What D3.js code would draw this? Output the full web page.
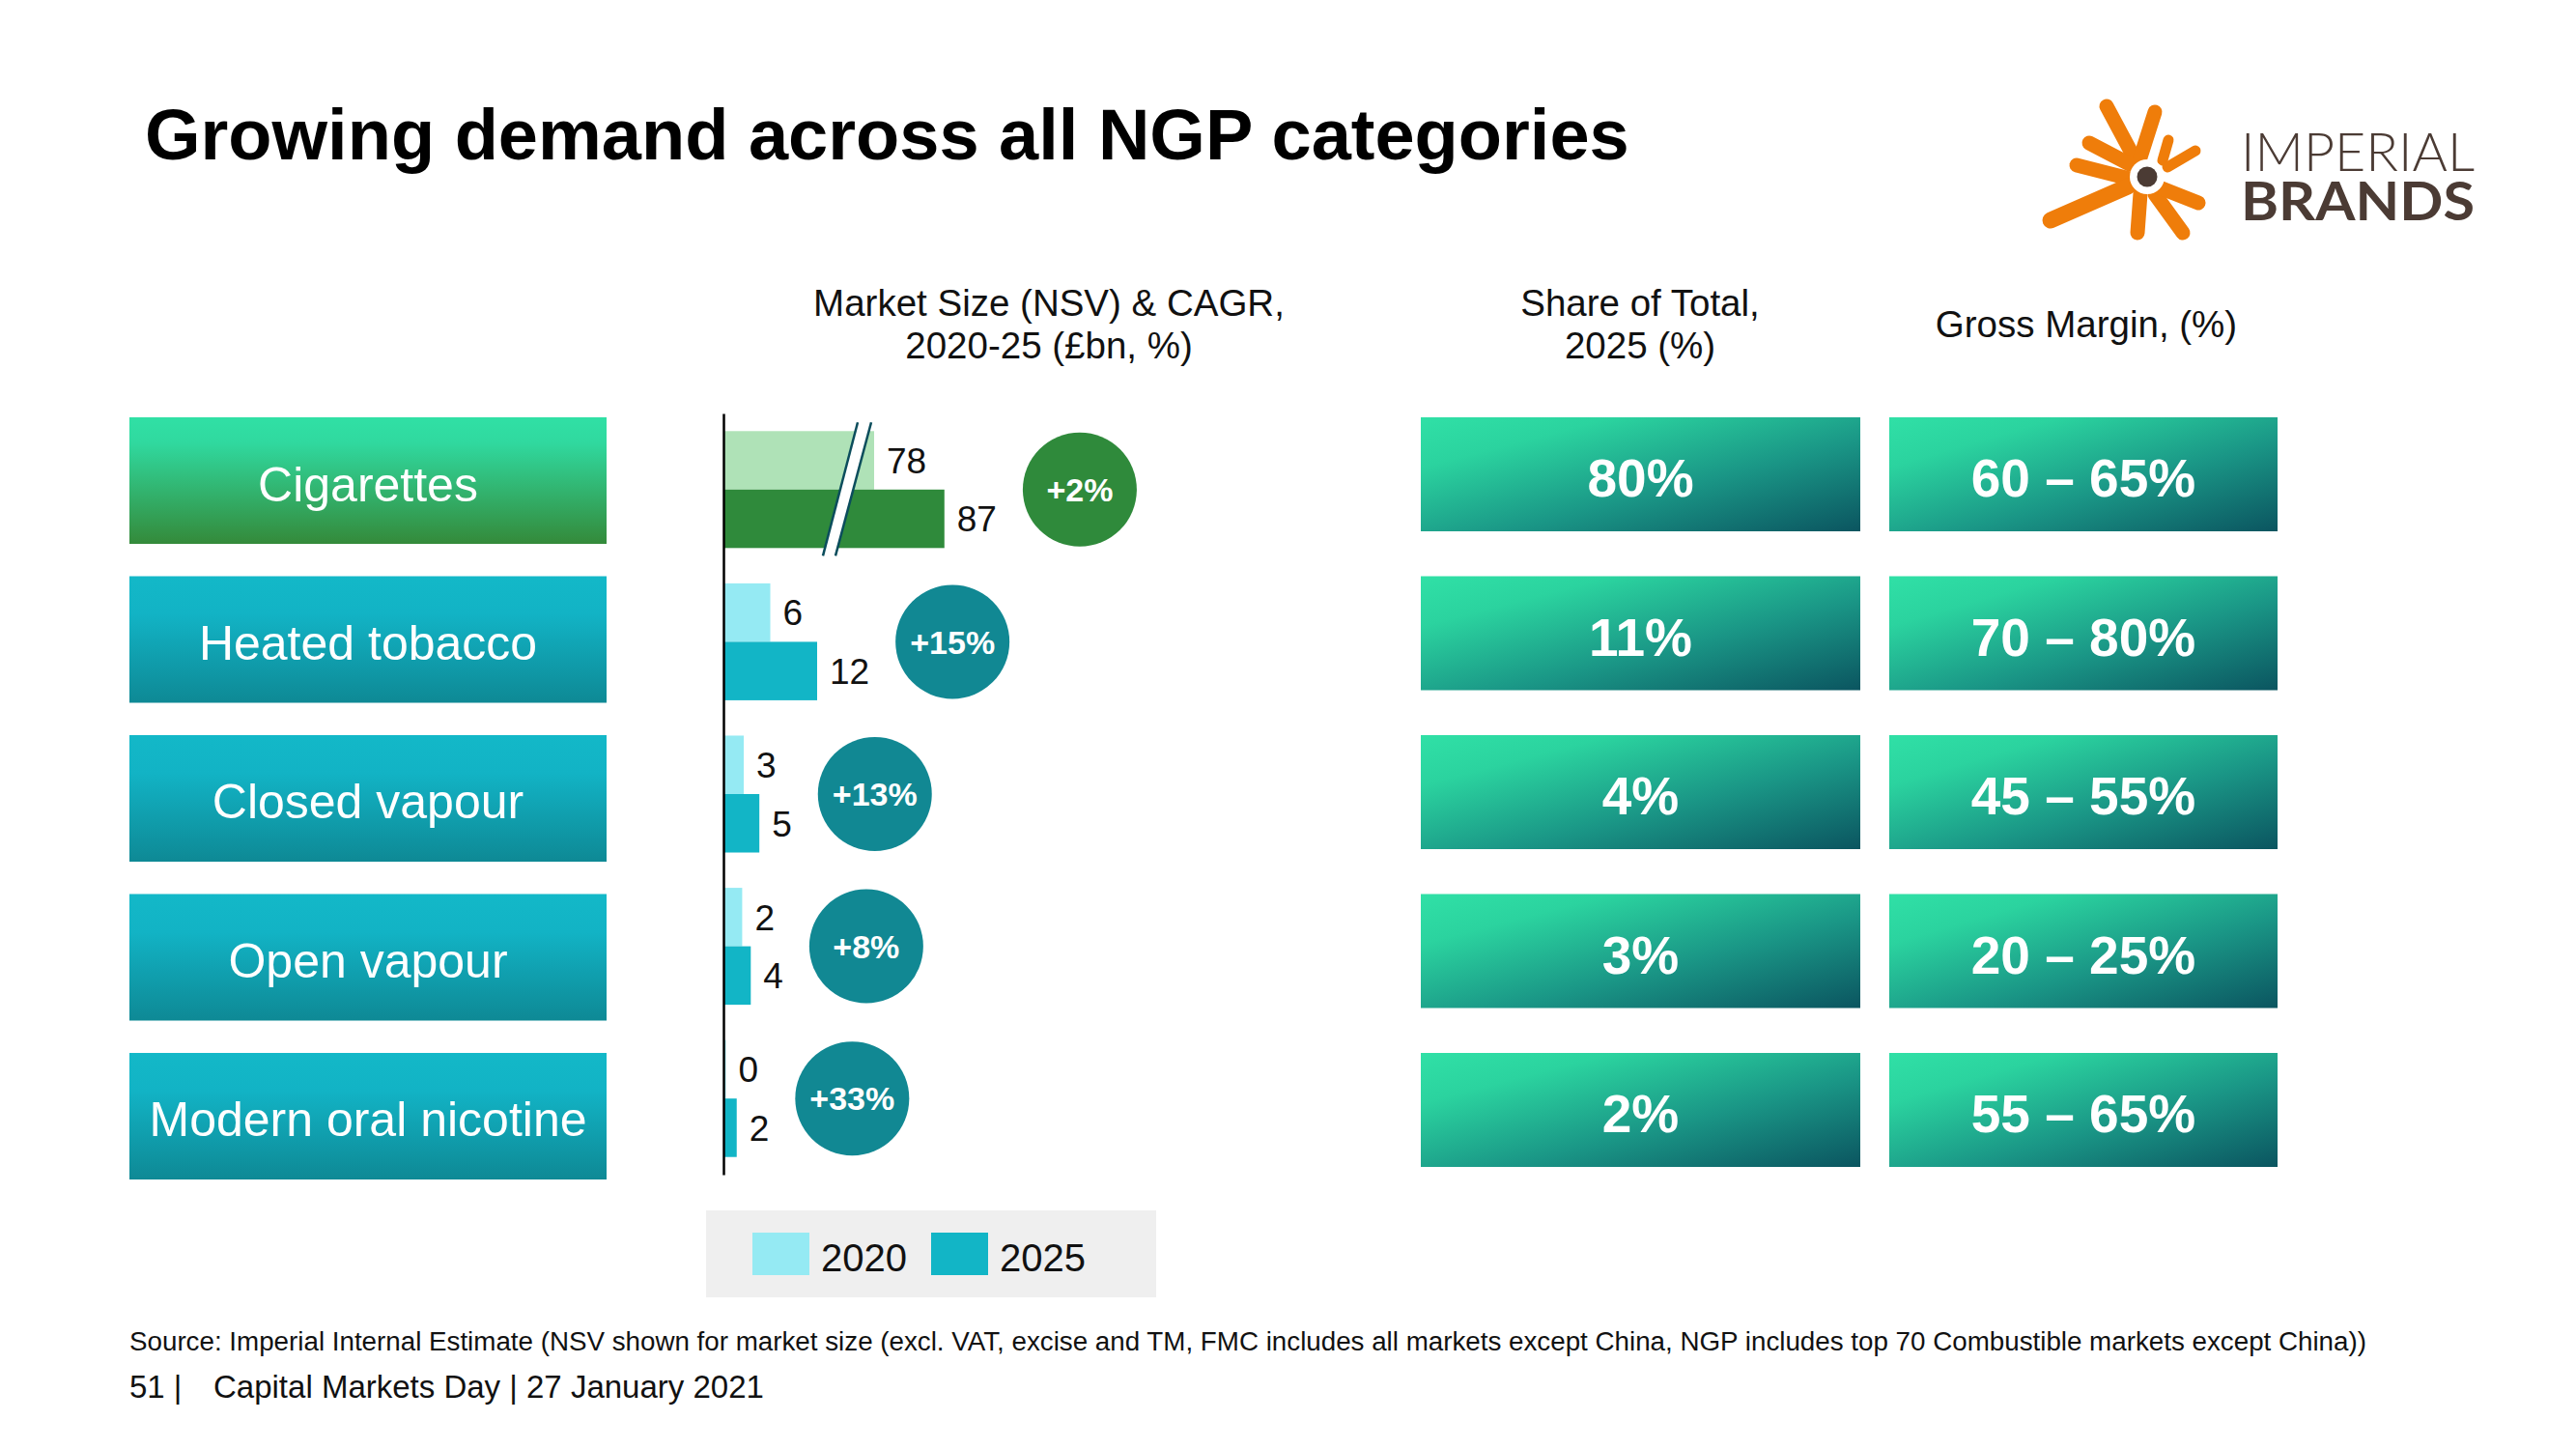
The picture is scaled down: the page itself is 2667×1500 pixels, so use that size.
<!DOCTYPE html>
<html><head><meta charset="utf-8">
<script src="https://cdn.jsdelivr.net/npm/d3@7"></script>
<style>
body{margin:0;background:#fff;}
svg{display:block;font-family:"Liberation Sans",Arial,Helvetica,sans-serif;}
</style>
</head><body><svg id="c" width="2667" height="1500"></svg>
<script>
// ---------------- DATA ----------------
const categories = ["Cigarettes", "Heated tobacco", "Closed vapour", "Open vapour", "Modern oral nicotine"];
const years = ["2020", "2025"];
const size2020 = [78, 6, 2.6, 2.4, 0.3];      // £bn
const size2025 = [87, 12, 4.6, 3.5, 1.7];     // £bn
const cigBreak = 58.7;                         // broken-axis offset for cigarettes (£bn)
const cagr = ["+2%", "+15%", "+13%", "+8%", "+33%"];
const shareOfTotal = ["80%", "11%", "4%", "3%", "2%"];
const grossMargin = ["60 – 65%", "70 – 80%", "45 – 55%", "20 – 25%", "55 – 65%"];
const title = "Growing demand across all NGP categories";
const headerMarket = ["Market Size (NSV) & CAGR,", "2020-25 (£bn, %)"];
const headerShare = ["Share of Total,", "2025 (%)"];
const headerMargin = ["Gross Margin, (%)"];
const sourceNote = "Source: Imperial Internal Estimate (NSV shown for market size (excl. VAT, excise and TM, FMC includes all markets except China, NGP includes top 70 Combustible markets except China))";
const pageNo = "51 |";
const footerText = "Capital Markets Day | 27 January 2021";

// ---------------- SETUP ----------------
const svg = d3.select("#c");
const defs = svg.append("defs");
function vGrad(id, stops) {
  const g = defs.append("linearGradient").attr("id", id).attr("x1", 0).attr("y1", 0).attr("x2", 0).attr("y2", 1);
  stops.forEach(s => g.append("stop").attr("offset", s[0]).attr("stop-color", s[1]));
}
vGrad("gGreen", [[0, "#30e0a5"], [0.2, "#30d99f"], [1, "#348a3a"]]);
vGrad("gTeal", [[0, "#13b8c8"], [0.3, "#12b3c5"], [1, "#0e8995"]]);
const dg = defs.append("linearGradient").attr("id", "gTile").attr("x1", 0).attr("y1", 0).attr("x2", 1).attr("y2", 1);
[[0, "#30e0a6"], [0.22, "#2bd39f"], [0.6, "#1a9686"], [1, "#0b5560"]].forEach(s => dg.append("stop").attr("offset", s[0]).attr("stop-color", s[1]));

// Title
svg.append("text").attr("x", 150).attr("y", 165).attr("font-size", 74).attr("font-weight", "bold")
  .attr("fill", "#000").text(title);

// ---------------- LOGO ----------------
const logo = svg.append("g").attr("transform", "translate(2223,183)");
const rays = [
  [[-42, -73], [-12, -17], 15], [[8, -67], [-7, -20], 15],
  [[-60, -35], [-18, -13], 15], [[-73, -12], [-18, 2], 15],
  [[-100, 45], [-20, 10], 17], [[-10, 58], [-7, 17], 15],
  [[37, 58], [8, 18], 15], [[53, 27], [15, 12], 15],
  [[22, -38], [16, -17], 11], [[50, -27], [21, -10], 11]
];
logo.selectAll("line.ray").data(rays).join("line").attr("class", "ray")
  .attr("x1", d => d[0][0]).attr("y1", d => d[0][1]).attr("x2", d => d[1][0]).attr("y2", d => d[1][1])
  .attr("stroke", "#ef7d0a").attr("stroke-width", d => d[2]).attr("stroke-linecap", "round");
logo.append("circle").attr("r", 18).attr("fill", "#fff");
logo.append("circle").attr("r", 10.5).attr("fill", "#4b3b34");
svg.append("text").attr("x", 2320).attr("y", 177).attr("font-family", "Lato, 'Open Sans', sans-serif")
  .attr("font-weight", 300).attr("font-size", 55).attr("fill", "#4b3b34")
  .attr("textLength", 242).attr("lengthAdjust", "spacingAndGlyphs").text("IMPERIAL");
svg.append("text").attr("x", 2320).attr("y", 228).attr("font-family", "Lato, 'Open Sans', sans-serif")
  .attr("font-weight", 700).attr("font-size", 56).attr("fill", "#4b3b34")
  .attr("textLength", 242).attr("lengthAdjust", "spacingAndGlyphs").text("BRANDS");

// ---------------- HEADERS ----------------
function header(lines, cx, y0) {
  const t = svg.append("text").attr("text-anchor", "middle").attr("font-size", 38.5).attr("fill", "#111");
  lines.forEach((l, i) => t.append("tspan").attr("x", cx).attr("y", y0 + i * 44).text(l));
}
header(headerMarket, 1086, 327);
header(headerShare, 1698, 327);
header(headerMargin, 2160, 349);

// ---------------- CATEGORY BOXES ----------------
const yCat = d3.scaleBand().domain(categories).range([432, 1221]).paddingInner(0.2036).paddingOuter(0);
const catG = svg.append("g").selectAll("g").data(categories).join("g")
  .attr("transform", d => `translate(134,${yCat(d)})`);
catG.append("rect").attr("width", 494).attr("height", yCat.bandwidth())
  .attr("fill", (d, i) => i === 0 ? "url(#gGreen)" : "url(#gTeal)");
catG.append("text").attr("x", 247).attr("y", yCat.bandwidth() / 2).attr("dy", "0.42em")
  .attr("text-anchor", "middle").attr("font-size", 50).attr("fill", "#fff").text(d => d);

// ---------------- BAR CHART ----------------
const axisX = 749;
const x = d3.scaleLinear().domain([0, 12]).range([0, 97]);
const yBar = d3.scaleBand().domain(categories).range([428, 1216]).paddingInner(0.232).paddingOuter(0.116);
const ySub = d3.scaleBand().domain(years).range([0, yBar.bandwidth()]);
const barColors = [["#afe2b7", "#2f8a3b"], ["#95eaf3", "#12b5c6"]];
const fmt = d3.format(".0f");

const rows = categories.map((c, i) => ({
  cat: c, i,
  vals: [size2020[i], size2025[i]].map((v, k) => ({ v, year: years[k], k, i }))
}));
const barW = d => d.i === 0 ? x(d.v - cigBreak) : x(d.v);

const rowG = svg.append("g").selectAll("g").data(rows).join("g")
  .attr("transform", d => `translate(${axisX},${yBar(d.cat)})`);
rowG.selectAll("rect").data(d => d.vals).join("rect")
  .attr("x", 0).attr("y", d => ySub(d.year)).attr("width", barW).attr("height", ySub.bandwidth())
  .attr("fill", d => barColors[d.i === 0 ? 0 : 1][d.k]);

// axis break on the cigarettes row
const bh = yBar.bandwidth();
const brk = rowG.filter(d => d.i === 0).append("g");
brk.append("polygon").attr("points", `139,-9 153,-9 116,${bh + 8} 103,${bh + 8}`).attr("fill", "#fff");
brk.append("line").attr("x1", 139).attr("y1", -9).attr("x2", 103).attr("y2", bh + 8)
  .attr("stroke", "#0b4d5c").attr("stroke-width", 2.5);
brk.append("line").attr("x1", 153).attr("y1", -9).attr("x2", 116).attr("y2", bh + 8)
  .attr("stroke", "#0b4d5c").attr("stroke-width", 2.5);

// value labels
rowG.selectAll("text.val").data(d => d.vals).join("text").attr("class", "val")
  .attr("x", d => barW(d) + 13).attr("y", d => ySub(d.year) + ySub.bandwidth() / 2).attr("dy", "0.36em")
  .attr("font-size", 37).attr("fill", "#111").text(d => fmt(d.v));

// CAGR bubbles
const R = 59;
rowG.each(function (d) {
  const g = d3.select(this);
  let maxEnd = 0;
  g.selectAll("text.val").each(function () {
    const t = d3.select(this);
    maxEnd = Math.max(maxEnd, +t.attr("x") + this.getComputedTextLength());
  });
  const cx = maxEnd + 27 + R;
  g.append("circle").attr("cx", cx).attr("cy", bh / 2).attr("r", R)
    .attr("fill", d.i === 0 ? "#2f8a3b" : "#118893");
  g.append("text").attr("x", cx).attr("y", bh / 2).attr("dy", "0.36em").attr("text-anchor", "middle")
    .attr("font-size", 34).attr("font-weight", "bold").attr("fill", "#fff").text(cagr[d.i]);
});

// vertical axis
const axisG = svg.append("g").attr("transform", `translate(${axisX},0)`)
  .call(d3.axisLeft(yBar).tickValues([]).tickSizeOuter(0));
axisG.select(".domain").attr("stroke", "#000").attr("stroke-width", 2.5);

// ---------------- RIGHT TILES ----------------
const yTile = d3.scaleBand().domain(categories).range([432, 1208]).paddingInner(0.2827).paddingOuter(0);
function tiles(values, x0, w) {
  const g = svg.append("g").selectAll("g").data(categories).join("g")
    .attr("transform", d => `translate(${x0},${yTile(d)})`);
  g.append("rect").attr("width", w).attr("height", yTile.bandwidth()).attr("fill", "url(#gTile)");
  g.append("text").attr("x", w / 2).attr("y", yTile.bandwidth() / 2).attr("dy", "0.42em")
    .attr("text-anchor", "middle").attr("font-size", 55).attr("font-weight", "bold").attr("fill", "#fff")
    .text((d, i) => values[i]);
}
tiles(shareOfTotal, 1471, 455);
tiles(grossMargin, 1956, 402);

// ---------------- LEGEND ----------------
const leg = svg.append("g").attr("transform", "translate(731,1253)");
leg.append("rect").attr("width", 466).attr("height", 90).attr("fill", "#efefef");
const legItems = leg.selectAll("g").data(years).join("g")
  .attr("transform", (d, i) => `translate(${48 + i * 185},23)`);
legItems.append("rect").attr("width", 59).attr("height", 44).attr("fill", (d, i) => barColors[1][i]);
legItems.append("text").attr("x", 71).attr("y", 40).attr("font-size", 40).attr("fill", "#111").text(d => d);

// ---------------- FOOTER ----------------
const src = svg.append("text").attr("x", 134).attr("y", 1398).attr("font-size", 26).attr("fill", "#111").text(sourceNote);
const L = src.node().getComputedTextLength();
src.attr("font-size", 26 * 2317 / L);
svg.append("text").attr("x", 134).attr("y", 1447).attr("font-size", 33).attr("fill", "#111").text(pageNo);
svg.append("text").attr("x", 221).attr("y", 1447).attr("font-size", 33).attr("fill", "#111").text(footerText);
</script>
</body></html>
